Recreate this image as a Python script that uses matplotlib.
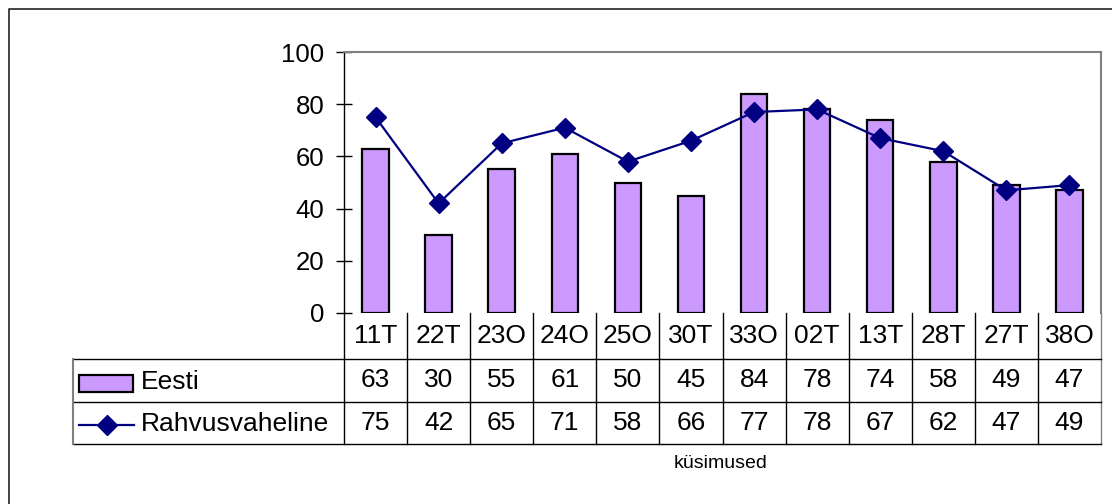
import numpy as np
import matplotlib.pyplot as plt
from matplotlib.patches import Rectangle
from matplotlib.lines import Line2D
from matplotlib.transforms import blended_transform_factory

plt.rcParams['font.family'] = ['Liberation Sans', 'DejaVu Sans']

categories = ['11T', '22T', '23O', '24O', '25O', '30T', '33O', '02T',
              '13T', '28T', '27T', '38O']
eesti = [63, 30, 55, 61, 50, 45, 84, 78, 74, 58, 49, 47]
rahvus = [75, 42, 65, 71, 58, 66, 77, 78, 67, 62, 47, 49]

W, H = 1112, 504
FS = 19
fig = plt.figure(figsize=(W / 100, H / 100), dpi=100)

# outer frame (only top and left edges visible)
fig.lines.append(Line2D([8.5 / W, 8.5 / W, 1], [0, 1 - 8.5 / H, 1 - 8.5 / H],
                        transform=fig.transFigure, color='#222222',
                        linewidth=1.2))

left, right, top, bottom = 344, 1101, 52, 313
ax = fig.add_axes([left / W, 1 - bottom / H, (right - left) / W,
                   (bottom - top) / H])
x = np.arange(len(categories))
ax.bar(x, eesti, width=0.42, color='#CC99FF', edgecolor='black',
       linewidth=1.6, zorder=2)
ax.plot(x, rahvus, color='#000080', linewidth=1.6, marker='D',
        markersize=10, zorder=3)
ax.set_xlim(-0.5, len(categories) - 0.5)
ax.set_ylim(0, 100)
ax.set_yticks(np.arange(0, 101, 20))
ax.tick_params(axis='y', direction='inout', length=12, width=1,
               labelsize=18.5, pad=8)
ax.set_xticks([])
for s in ['top', 'right']:
    ax.spines[s].set_color('#808080')
    ax.spines[s].set_linewidth(1.5)
ax.spines['bottom'].set_visible(False)
ax.spines['left'].set_linewidth(1)

# data table
tbot = 444
tab = fig.add_axes([73 / W, 1 - tbot / H, (right - 73) / W,
                    (tbot - bottom) / H])
tab.axis('off')
tr = blended_transform_factory(ax.transData, tab.transAxes)
h = tbot - bottom
y1 = 1 - (359 - bottom) / h
y2 = 1 - (401.7 - bottom) / h
for xb in np.arange(-0.5, len(categories), 1.0):
    col = '#808080' if xb == len(categories) - 0.5 else 'black'
    tab.add_line(Line2D([xb, xb], [0, 1], transform=tr, color=col,
                        linewidth=1, clip_on=False))
for yy in [y1, y2, 0]:
    tab.add_line(Line2D([0, 1], [yy, yy], transform=tab.transAxes,
                        color='black', linewidth=1, clip_on=False))
tab.add_line(Line2D([0, 0], [0, y1], transform=tab.transAxes,
                    color='#808080', linewidth=1.5, clip_on=False))

ym = [(1 + y1) / 2, (y1 + y2) / 2, y2 / 2]
for i, c in enumerate(categories):
    tab.text(i, ym[0], c, transform=tr, ha='center', va='center',
             fontsize=FS)
    tab.text(i, ym[1], str(eesti[i]), transform=tr, ha='center',
             va='center', fontsize=FS)
    tab.text(i, ym[2], str(rahvus[i]), transform=tr, ha='center',
             va='center', fontsize=FS)

# legend keys inside table
fig.patches.append(Rectangle((79 / W, 1 - 392 / H), 54 / W, 17 / H,
                             transform=fig.transFigure, facecolor='#CC99FF',
                             edgecolor='black', linewidth=1.6))
fig.lines.append(Line2D([79 / W, 134 / W], [1 - 425 / H, 1 - 425 / H],
                        transform=fig.transFigure, color='#000080',
                        linewidth=1.6))
fig.lines.append(Line2D([106.5 / W], [1 - 425 / H], transform=fig.transFigure,
                        color='#000080', marker='D', markersize=10))
fig.text(141 / W, 1 - 382 / H, 'Eesti', fontsize=FS, va='center')
fig.text(141 / W, 1 - 424 / H, 'Rahvusvaheline', fontsize=FS, va='center')

fig.text(721 / W, 1 - 464 / H, 'küsimused', fontsize=14, ha='center',
         va='center')

fig.savefig('out.png', dpi=100)
